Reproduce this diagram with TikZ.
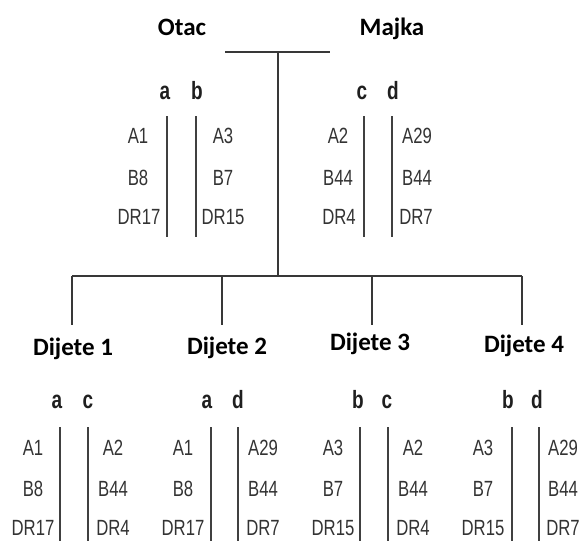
\documentclass[tikz,border=0pt]{standalone}
\usepackage{fontspec}
\newfontfamily\lblfont{Carlito}
\newfontfamily\hlafont[FakeStretch=0.76]{Liberation Sans}
\tikzset{
  lbl/.style={font=\lblfont\bfseries\fontsize{25}{25}\selectfont, text=black, inner sep=0pt, anchor=base},
  allele/.style={font=\hlafont\bfseries\fontsize{25}{25}\selectfont, text=black!88, inner sep=0pt, anchor=base},
  hla/.style={font=\hlafont\fontsize{22}{22}\selectfont, text=black!80, inner sep=0pt, anchor=base},
  bar/.style={draw=black!78, line width=1.6pt},
  sep/.style={draw=black!75, line width=1.5pt},
}
\begin{document}
\begin{tikzpicture}[x=1pt,y=-1pt]
\useasboundingbox (0,0) rectangle (582,541);

% parents
\node[lbl] (otac) at (182,35) {Otac};
\node[lbl] (majka) at (392,35) {Majka};
\coordinate (pl) at (225,52);
\coordinate (pr) at (330,52);
\coordinate (pj) at (278,52);
\coordinate (cj) at (278,276);
\draw[bar] (pl) -- (pr);
\draw[bar] (pj) -- (cj);

% children bar
\coordinate (c1t) at (72,276);
\coordinate (c2t) at (222,276);
\coordinate (c3t) at (372,276);
\coordinate (c4t) at (522,276);
\coordinate (c1b) at (72,325);
\coordinate (c2b) at (222,325);
\coordinate (c3b) at (372,325);
\coordinate (c4b) at (522,325);
\draw[bar] (c1t) -- (c4t);
\draw[bar] (c1t) -- (c1b);
\draw[bar] (c2t) -- (c2b);
\draw[bar] (c3t) -- (c3b);
\draw[bar] (c4t) -- (c4b);

\node[lbl] (d1) at (73,355) {Dijete 1};
\node[lbl] (d2) at (227,354) {Dijete 2};
\node[lbl] (d3) at (370,350) {Dijete 3};
\node[lbl] (d4) at (524,352) {Dijete 4};

% parent allele letters
\node[allele] (pa) at (165,99) {a};
\node[allele] (pb) at (197,99) {b};
\node[allele] (pc) at (362,99) {c};
\node[allele] (pd) at (393,99) {d};

% parent separators
\foreach \n/\x in {sa/167,sb/196,sc/364,sd/392}{
  \coordinate (\n t) at (\x,116);
  \coordinate (\n b) at (\x,237);
  \draw[sep] (\n t) -- (\n b);
}

% parent HLA
\node[hla] (oa1) at (138,143) {A1};
\node[hla] (oa2) at (138,185) {B8};
\node[hla] (oa3) at (139,224) {DR17};
\node[hla] (ob1) at (223,143) {A3};
\node[hla] (ob2) at (223,185) {B7};
\node[hla] (ob3) at (223,224) {DR15};
\node[hla] (mc1) at (338,143) {A2};
\node[hla] (mc2) at (338,185) {B44};
\node[hla] (mc3) at (339,224) {DR4};
\node[hla] (md1) at (417,143) {A29};
\node[hla] (md2) at (417,185) {B44};
\node[hla] (md3) at (416,224) {DR7};

% child allele letters
\node[allele] (k1l) at (57,408) {a};
\node[allele] (k1r) at (88,408) {c};
\node[allele] (k2l) at (207,408) {a};
\node[allele] (k2r) at (238,408) {d};
\node[allele] (k3l) at (358,408) {b};
\node[allele] (k3r) at (387,408) {c};
\node[allele] (k4l) at (508,408) {b};
\node[allele] (k4r) at (537,408) {d};

% child separators
\foreach \n/\x in {s1l/60,s1r/88,s2l/211,s2r/238,s3l/360,s3r/388,s4l/512,s4r/539}{
  \coordinate (\n t) at (\x,427);
  \coordinate (\n b) at (\x,545);
  \draw[sep] (\n t) -- (\n b);
}

% child HLA
\foreach \n/\x/\p/\q/\r in {
  e1l/33/A1/B8/DR17, e1r/113/A2/B44/DR4,
  e2l/183/A1/B8/DR17, e2r/263/A29/B44/DR7,
  e3l/333/A3/B7/DR15, e3r/413/A2/B44/DR4,
  e4l/483/A3/B7/DR15, e4r/563/A29/B44/DR7}{
  \node[hla] (\n 1) at (\x,455) {\p};
  \node[hla] (\n 2) at (\x,496) {\q};
  \node[hla] (\n 3) at (\x,535) {\r};
}
\end{tikzpicture}
\end{document}
